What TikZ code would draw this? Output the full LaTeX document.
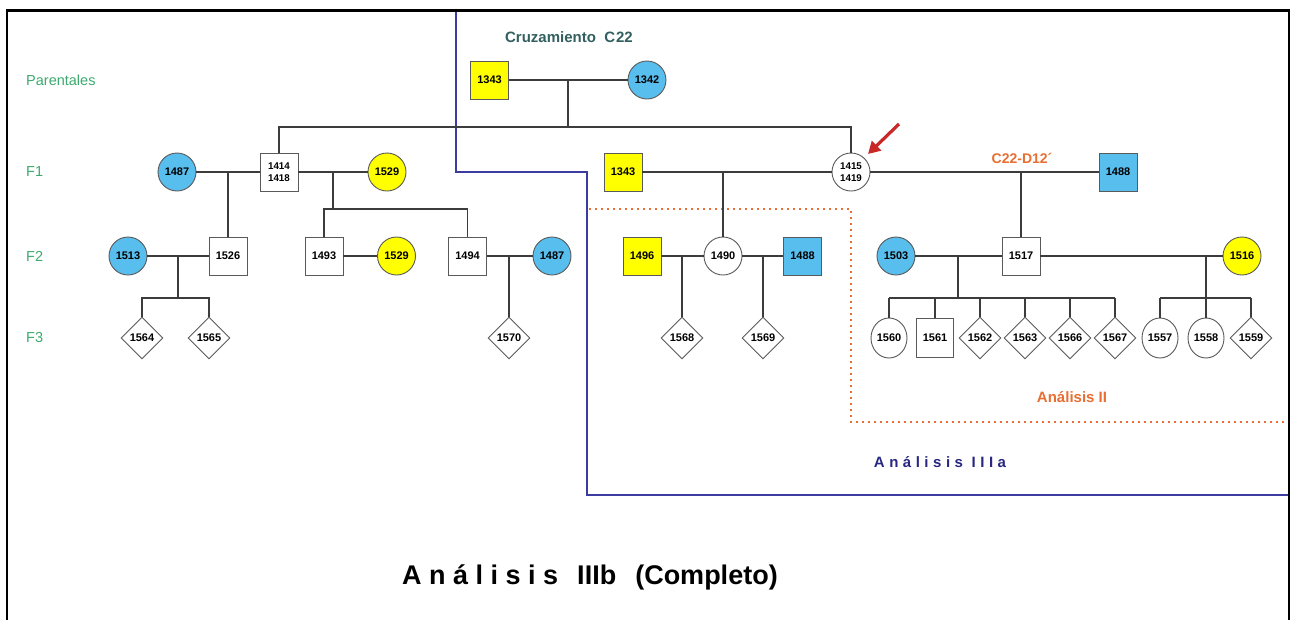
\documentclass[tikz,border=0pt]{standalone}
\usepackage{fontspec}
\setmainfont{Liberation Sans}
\newfontfamily\spacedfont[LetterSpace=30]{Liberation Sans}
\usetikzlibrary{shapes.geometric,arrows.meta}
\definecolor{pblue}{RGB}{88,190,238}
\definecolor{pyellow}{RGB}{255,255,0}
\definecolor{pgray}{RGB}{90,90,90}
\definecolor{lineg}{RGB}{60,60,60}
\definecolor{gen}{RGB}{60,170,110}
\definecolor{cruz}{RGB}{50,95,95}
\definecolor{orng}{RGB}{232,110,50}
\definecolor{navyline}{RGB}{60,60,160}
\definecolor{navyt}{RGB}{40,40,130}
\definecolor{arrowred}{RGB}{200,40,40}
\tikzset{
  ind/.style={draw=pgray, line width=0.9pt, fill=white, inner sep=0pt, text=black,
    font=\fontsize{11}{11}\selectfont\bfseries},
  male/.style={ind, rectangle, minimum width=38pt, minimum height=38pt},
  female/.style={ind, circle, minimum size=38pt},
  femchild/.style={ind, ellipse, minimum width=36pt, minimum height=40pt},
  malechild/.style={ind, rectangle, minimum width=37pt, minimum height=39pt},
  unk/.style={ind, diamond, minimum width=42pt, minimum height=42pt},
  bfill/.style={fill=pblue},
  yfill/.style={fill=pyellow},
  twoline/.style={align=center, font=\fontsize{9.8}{11.5}\selectfont\bfseries},
  link/.style={draw=lineg, line width=1.1pt},
  genlabel/.style={text=gen, font=\fontsize{14.5}{15}\selectfont, anchor=west, inner sep=0pt},
}
\begin{document}
\begin{tikzpicture}[x=1pt,y=-1pt]
\useasboundingbox (0,0) rectangle (1294,619);
\clip (0,0) rectangle (1294,619);
\fill[white] (0,0) rectangle (1294,619);

% analysis regions
\draw[navyline, line width=1.6pt] (456,10) -- (456,172) -- (587,172) -- (587,495) -- (1290,495);
\draw[orng, line width=1.3pt, dash pattern=on 2pt off 4pt] (589,209) -- (851,209) -- (851,422) -- (1290,422);

% generation labels
\node[genlabel] (lpar) at (26,80) {Parentales};
\node[genlabel] (lf1) at (26,172) {F1};
\node[genlabel] (lf2) at (26,256) {F2};
\node[genlabel] (lf3) at (26,338) {F3};

% titles
\node[text=cruz, font=\fontsize{15}{16}\selectfont\bfseries] (tcruz) at (569,37) {Cruzamiento\ \ C\kern1pt22};
\node[text=orng, font=\fontsize{14}{15}\selectfont\bfseries] (tcd) at (1022,158) {C22-D12´};
\node[text=orng, font=\fontsize{15}{16}\selectfont\bfseries] (tan2) at (1072,397) {Análisis II};
\node[text=navyt, font=\fontsize{15}{16}\selectfont\bfseries\spacedfont] (tan3a) at (940,462) {Análisis IIIa};
\node[anchor=west, inner sep=0pt, font=\fontsize{27}{28}\selectfont\bfseries] (tan3b) at (402,577)
  {A n á l i s i s\hspace{19pt}IIIb\hspace{19pt}(Completo)};

% parents
\node[male,yfill] (p1343) at (489.5,80) {1343};
\node[female,bfill] (p1342) at (647,80) {1342};

% F1
\node[female,bfill] (a1487) at (177,172) {1487};
\node[male,twoline] (a1414) at (279,172) {1414\\1418};
\node[female,yfill] (a1529) at (387,172) {1529};
\node[male,yfill] (a1343) at (623,172) {1343};
\node[female,twoline] (a1415) at (851,172) {1415\\1419};
\node[male,bfill] (a1488) at (1118,172) {1488};

% F2
\node[female,bfill] (b1513) at (128,256) {1513};
\node[male] (b1526) at (228,256) {1526};
\node[male] (b1493) at (324,256) {1493};
\node[female,yfill] (b1529) at (396.5,256) {1529};
\node[male] (b1494) at (467.5,256) {1494};
\node[female,bfill] (b1487) at (552,256) {1487};
\node[male,yfill] (b1496) at (642,256) {1496};
\node[female] (b1490) at (723,256) {1490};
\node[male,bfill] (b1488) at (802.5,256) {1488};
\node[female,bfill] (b1503) at (896,256) {1503};
\node[male] (b1517) at (1021,256) {1517};
\node[female,yfill] (b1516) at (1242,256) {1516};

% F3
\node[unk] (c1564) at (142,338) {1564};
\node[unk] (c1565) at (209,338) {1565};
\node[unk] (c1570) at (509,338) {1570};
\node[unk] (c1568) at (682,338) {1568};
\node[unk] (c1569) at (763,338) {1569};
\node[femchild] (c1560) at (889,338) {1560};
\node[malechild] (c1561) at (935,338) {1561};
\node[unk] (c1562) at (980,338) {1562};
\node[unk] (c1563) at (1025,338) {1563};
\node[unk] (c1566) at (1070,338) {1566};
\node[unk] (c1567) at (1115,338) {1567};
\node[femchild] (c1557) at (1160,338) {1557};
\node[femchild] (c1558) at (1206,338) {1558};
\node[unk] (c1559) at (1251,338) {1559};

% marriage and sibship coordinates
\coordinate (m0) at (568,80);
\coordinate (s0) at (568,127);
\coordinate (m1) at (228,172);
\coordinate (m2) at (333,172);
\coordinate (s2) at (333,209);
\coordinate (m3) at (723,172);
\coordinate (m4) at (1021,172);
\coordinate (m5) at (178,256);
\coordinate (s5) at (178,298);
\coordinate (m6) at (509,256);
\coordinate (m7) at (682,256);
\coordinate (m8) at (763,256);
\coordinate (m9) at (958,256);
\coordinate (s9) at (958,298);
\coordinate (m10) at (1206,256);
\coordinate (s10) at (1206,298);

% parents
\draw[link] (p1343) -- (p1342);
\draw[link] (m0) -- (s0);
\draw[link] (a1414.north) |- (s0) -| (a1415.north);

% F1 marriages
\draw[link] (a1487) -- (a1414);
\draw[link] (a1414) -- (a1529);
\draw[link] (a1343) -- (a1415);
\draw[link] (a1415) -- (a1488);
\draw[link] (m1) -- (b1526.north);
\draw[link] (m2) -- (s2);
\draw[link] (b1493.north) |- (s2) -| (b1494.north);
\draw[link] (m3) -- (b1490.north);
\draw[link] (m4) -- (b1517.north);

% F2 marriages
\draw[link] (b1513) -- (b1526);
\draw[link] (b1493) -- (b1529);
\draw[link] (b1494) -- (b1487);
\draw[link] (b1496) -- (b1490);
\draw[link] (b1490) -- (b1488);
\draw[link] (b1503) -- (b1517);
\draw[link] (b1517) -- (b1516);

\draw[link] (m5) -- (s5);
\draw[link] (c1564.north) |- (s5) -| (c1565.north);
\draw[link] (m6) -- (c1570.north);
\draw[link] (m7) -- (c1568.north);
\draw[link] (m8) -- (c1569.north);

\draw[link] (m9) -- (s9);
\draw[link] (c1560.north |- s9) -- (c1567.north |- s9);
\foreach \c in {c1560,c1561,c1562,c1563,c1566,c1567}
  \draw[link] (\c.north) -- (\c.north |- s9);

\draw[link] (m10) -- (c1558.north);
\draw[link] (c1557.north |- s10) -- (c1559.north |- s10);
\draw[link] (c1557.north) -- (c1557.north |- s10);
\draw[link] (c1559.north) -- (c1559.north |- s10);

% arrow to proband
\coordinate (arrtail) at (899,124);
\coordinate (arrtip) at (868,154);
\draw[arrowred, line width=3.2pt, -{Triangle[length=12pt,width=13pt]}] (arrtail) -- (arrtip);

% outer frame
\draw[black, line width=2.5pt] (7,640) -- (7,10.5) -- (1289,10.5) -- (1289,640);
\end{tikzpicture}
\end{document}
